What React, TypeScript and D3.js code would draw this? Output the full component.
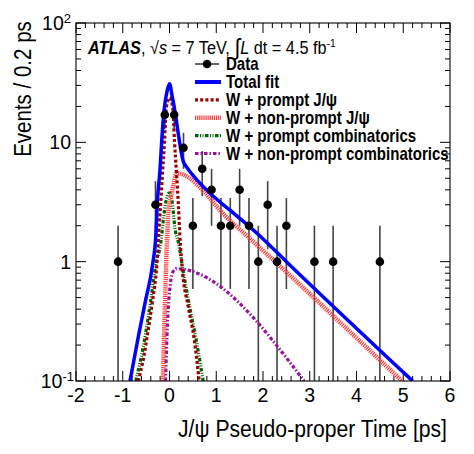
import React from "react";
import * as d3 from "d3";

const W = 474;
const H = 454;

// Data points (bin centres, counts, sqrt errors)
const dataT = [-1.1, -0.3, -0.1, 0.1, 0.3, 0.5, 0.7, 0.9, 1.1, 1.3, 1.5, 1.7, 1.9, 2.1, 2.3, 2.5, 3.1, 3.5, 4.5];
const dataN = [1, 3, 17, 17, 9, 2, 6, 4, 2, 2, 4, 2, 1, 3, 1, 2, 1, 1, 1];
const dataErr = [1, 1.73, 4.12, 4.12, 3, 1.41, 2.45, 2, 1.41, 1.41, 2, 1.41, 1, 1.73, 1, 1.41, 1, 1, 1];

// Total fit
const fitT = [-0.845, -0.652, -0.509, -0.368, -0.289, -0.261, -0.203, -0.167, -0.11, -0.05, 0, 0.06, 0.118, 0.2, 0.25, 0.29, 0.368, 0.582, 0.937, 1.294, 1.865, 2.5, 5.2];
const fitV = [0.1, 0.252, 0.48, 0.91, 1.74, 3.1, 5.9, 10.2, 19.4, 27, 30.9, 24, 18, 11, 8.3, 7.0, 6.2, 4.87, 3.53, 2.7, 1.74, 1.0, 0.1];

// W + prompt J/psi
const promptT = [-0.667, -0.55, -0.466, -0.36, -0.274, -0.23, -0.19, -0.15, -0.107, -0.07, 0, 0.07, 0.107, 0.15, 0.19, 0.22, 0.282, 0.402, 0.53, 0.635];
const promptV = [0.1, 0.16, 0.252, 0.48, 0.91, 1.74, 3.0, 5.5, 10.2, 19.4, 23.6, 19.4, 10.2, 5.5, 3.0, 1.7, 0.8, 0.42, 0.222, 0.1];

// W + non-prompt J/psi
const nonPromptT = [-0.14, -0.1, -0.06, -0.026, 0.04, 0.1, 0.154, 1.3, 4.97];
const nonPromptV = [0.1, 0.4, 1.26, 2.5, 3.6, 4.7, 5.5, 2.2, 0.1];

// W + prompt combinatorics
const promptCombT = [-0.72, -0.51, -0.4, -0.3, -0.18, -0.135, -0.09, 0, 0.07, 0.11, 0.19, 0.3, 0.43, 0.57, 0.72];
const promptCombV = [0.1, 0.252, 0.48, 0.91, 1.5, 2.16, 3.0, 3.77, 2.9, 2.0, 1.45, 0.8, 0.42, 0.222, 0.1];

// W + non-prompt combinatorics
const nonPromptCombT = [-0.086, -0.065, -0.043, 0.021, 0.075, 0.139, 2.88];
const nonPromptCombV = [0.1, 0.18, 0.306, 0.663, 0.824, 0.874, 0.1];

const xTickValues = [-2, -1, 0, 1, 2, 3, 4, 5, 6];
const yTickValues = [0.1, 1, 10, 100];
const yTickBase = ["10", "1", "10", "10"];
const yTickExp = ["-1", "", "", "2"];

const legendLabels = [
  "Data",
  "Total fit",
  "W + prompt J/\u03C8",
  "W + non-prompt J/\u03C8",
  "W + prompt combinatorics",
  "W + non-prompt combinatorics",
];

const FONT = "'Liberation Sans', Arial, Helvetica, sans-serif";

const X0 = 76, X1 = 450, Y0 = 23, Y1 = 381;

const x = d3.scaleLinear().domain([-2, 6]).range([X0, X1]);
const y = d3.scaleLog().domain([0.1, 100]).range([Y1, Y0]);

const lineGen = d3
  .line<[number, number]>()
  .x((d) => x(d[0]))
  .y((d) => y(d[1]))
  .curve(d3.curveMonotoneX);

const zip = (t: number[], v: number[]) => t.map((tt, i) => [tt, v[i]] as [number, number]);

const PURPLE = { stroke: "#99109a", width: 3.2, dash: "3.5,2,1.5,2" };
const GREEN = { stroke: "#006400", width: 3.2, dash: "3.5,1.5,1,1.5,1,1.5" };
const PINK = { stroke: "#ff3b3b", width: 4.5, dash: "1.2,0.9" };
const DARKRED = { stroke: "#990000", width: 3.2, dash: "3,2.2" };
const BLUE = { stroke: "#0000ff", width: 3.5, dash: "" };

const curveStyles = [
  { t: nonPromptCombT, v: nonPromptCombV, ...PURPLE },
  { t: promptCombT, v: promptCombV, ...GREEN },
  { t: nonPromptT, v: nonPromptV, ...PINK },
  { t: promptT, v: promptV, ...DARKRED },
  { t: fitT, v: fitV, ...BLUE },
];

const legendStyles = [null, { ...BLUE, width: 4 }, DARKRED, PINK, GREEN, PURPLE];

export default function App() {
  const xMinor: number[] = [];
  for (let i = 0; i <= 40; i++) {
    const v = -2 + i * 0.2;
    if (Math.abs(v - Math.round(v)) > 1e-6) xMinor.push(v);
  }
  const yMinor: number[] = [];
  [0.1, 1, 10].forEach((dec) => {
    for (let k = 2; k <= 9; k++) yMinor.push(dec * k);
  });

  const legendY = [64, 82, 99.8, 117.7, 135.6, 153.5];

  return (
    <svg
      width={W}
      height={H}
      style={{ position: "absolute", left: 0, top: 0, background: "#fff" }}
      fontFamily={FONT}
    >
      <rect x={0} y={0} width={W} height={H} fill="#fff" />
      <defs>
        <clipPath id="plotclip">
          <rect x={X0} y={Y0} width={X1 - X0} height={Y1 - Y0} />
        </clipPath>
      </defs>

      {/* ticks */}
      <g stroke="#000" strokeWidth={1}>
        {xTickValues.map((v) => (
          <g key={"xt" + v}>
            <line x1={x(v)} x2={x(v)} y1={Y1} y2={Y1 - 10} />
            <line x1={x(v)} x2={x(v)} y1={Y0} y2={Y0 + 10} />
          </g>
        ))}
        {xMinor.map((v, i) => (
          <g key={"xm" + i}>
            <line x1={x(v)} x2={x(v)} y1={Y1} y2={Y1 - 5} />
            <line x1={x(v)} x2={x(v)} y1={Y0} y2={Y0 + 5} />
          </g>
        ))}
        {yTickValues.map((v) => (
          <g key={"yt" + v}>
            <line x1={X0} x2={X0 + 10} y1={y(v)} y2={y(v)} />
            <line x1={X1} x2={X1 - 10} y1={y(v)} y2={y(v)} />
          </g>
        ))}
        {yMinor.map((v, i) => (
          <g key={"ym" + i}>
            <line x1={X0} x2={X0 + 5} y1={y(v)} y2={y(v)} />
            <line x1={X1} x2={X1 - 5} y1={y(v)} y2={y(v)} />
          </g>
        ))}
      </g>

      {/* data error bars */}
      <g>
        {dataT.map((t, i) => {
          const lo = dataN[i] - dataErr[i];
          const yLo = lo > 0.1 ? y(lo) : Y1;
          const yHi = y(dataN[i] + dataErr[i]);
          return (
            <line
              key={"eb" + i}
              x1={x(t)}
              x2={x(t)}
              y1={yLo}
              y2={yHi}
              stroke="#444"
              strokeWidth={1.6}
            />
          );
        })}
      </g>

      {/* curves */}
      <g clipPath="url(#plotclip)" fill="none">
        {curveStyles.map((c, i) => (
          <path
            key={"c" + i}
            d={lineGen(zip(c.t, c.v)) || ""}
            stroke={c.stroke}
            strokeWidth={c.width}
            strokeDasharray={c.dash || undefined}
          />
        ))}
      </g>

      {/* data markers */}
      <g fill="#000">
        {dataT.map((t, i) => (
          <circle key={"dp" + i} cx={x(t)} cy={y(dataN[i])} r={4.3} />
        ))}
      </g>

      {/* frame */}
      <rect x={X0} y={Y0} width={X1 - X0} height={Y1 - Y0} fill="none" stroke="#000" strokeWidth={1.1} />

      {/* x tick labels */}
      <g fontSize={19.5} textAnchor="middle" fill="#000">
        {xTickValues.map((v) => (
          <text key={"xl" + v} x={x(v)} y={Y1 + 21}>
            {String(v)}
          </text>
        ))}
      </g>

      {/* y tick labels */}
      <g fontSize={19.5} fill="#000">
        {yTickValues.map((v, i) => (
          <text key={"yl" + v} x={yTickExp[i] === "-1" ? 74 : 71} y={y(v) + 7} textAnchor="end">
            <tspan>{yTickBase[i]}</tspan>
            {yTickExp[i] ? (
              <tspan dy={-7} fontSize={13}>
                {yTickExp[i]}
              </tspan>
            ) : null}
          </text>
        ))}
      </g>

      {/* axis titles */}
      <g transform="translate(447,437) scale(0.882,1)">
        <text x={0} y={0} fontSize={24} textAnchor="end" fill="#000">
          J/{"\u03C8"} Pseudo-proper Time [ps]
        </text>
      </g>
      <g transform="translate(31,89) rotate(-90) scale(0.855,1)">
        <text x={0} y={0} fontSize={24} textAnchor="middle" fill="#000">
          Events / 0.2 ps
        </text>
      </g>

      {/* ATLAS label */}
      <g transform="translate(88,54) scale(0.93,1)">
        <text fontSize={17.5} fill="#000" style={{ whiteSpace: "pre" }}>
          <tspan fontWeight="bold" fontStyle="italic">ATLAS</tspan>
          <tspan>{", \u221A"}</tspan>
          <tspan fontStyle="italic">s</tspan>
          <tspan>{" = 7 TeV, "}</tspan>
          <tspan fontSize={23} dy={1}>{"\u222B"}</tspan>
          <tspan dy={-1} fontStyle="italic">L</tspan>
          <tspan>{" dt = 4.5 fb"}</tspan>
          <tspan dy={-7} fontSize={11}>-1</tspan>
        </text>
      </g>

      {/* legend */}
      <g>
        {legendLabels.map((lab, i) => {
          const cy = legendY[i];
          const st = legendStyles[i];
          return (
            <g key={"lg" + i}>
              {st ? (
                <line
                  x1={195}
                  x2={221}
                  y1={cy}
                  y2={cy}
                  stroke={st.stroke}
                  strokeWidth={st.width}
                  strokeDasharray={st.dash || undefined}
                />
              ) : (
                <g>
                  <line x1={195} x2={219} y1={cy} y2={cy} stroke="#444" strokeWidth={1.6} />
                  <circle cx={207} cy={cy} r={4.3} fill="#000" />
                </g>
              )}
              <text
                transform={`translate(226,${cy + 6.2}) scale(0.86,1)`}
                fontSize={17.5}
                fontWeight="bold"
                fill="#000"
              >
                {lab}
              </text>
            </g>
          );
        })}
      </g>
    </svg>
  );
}
